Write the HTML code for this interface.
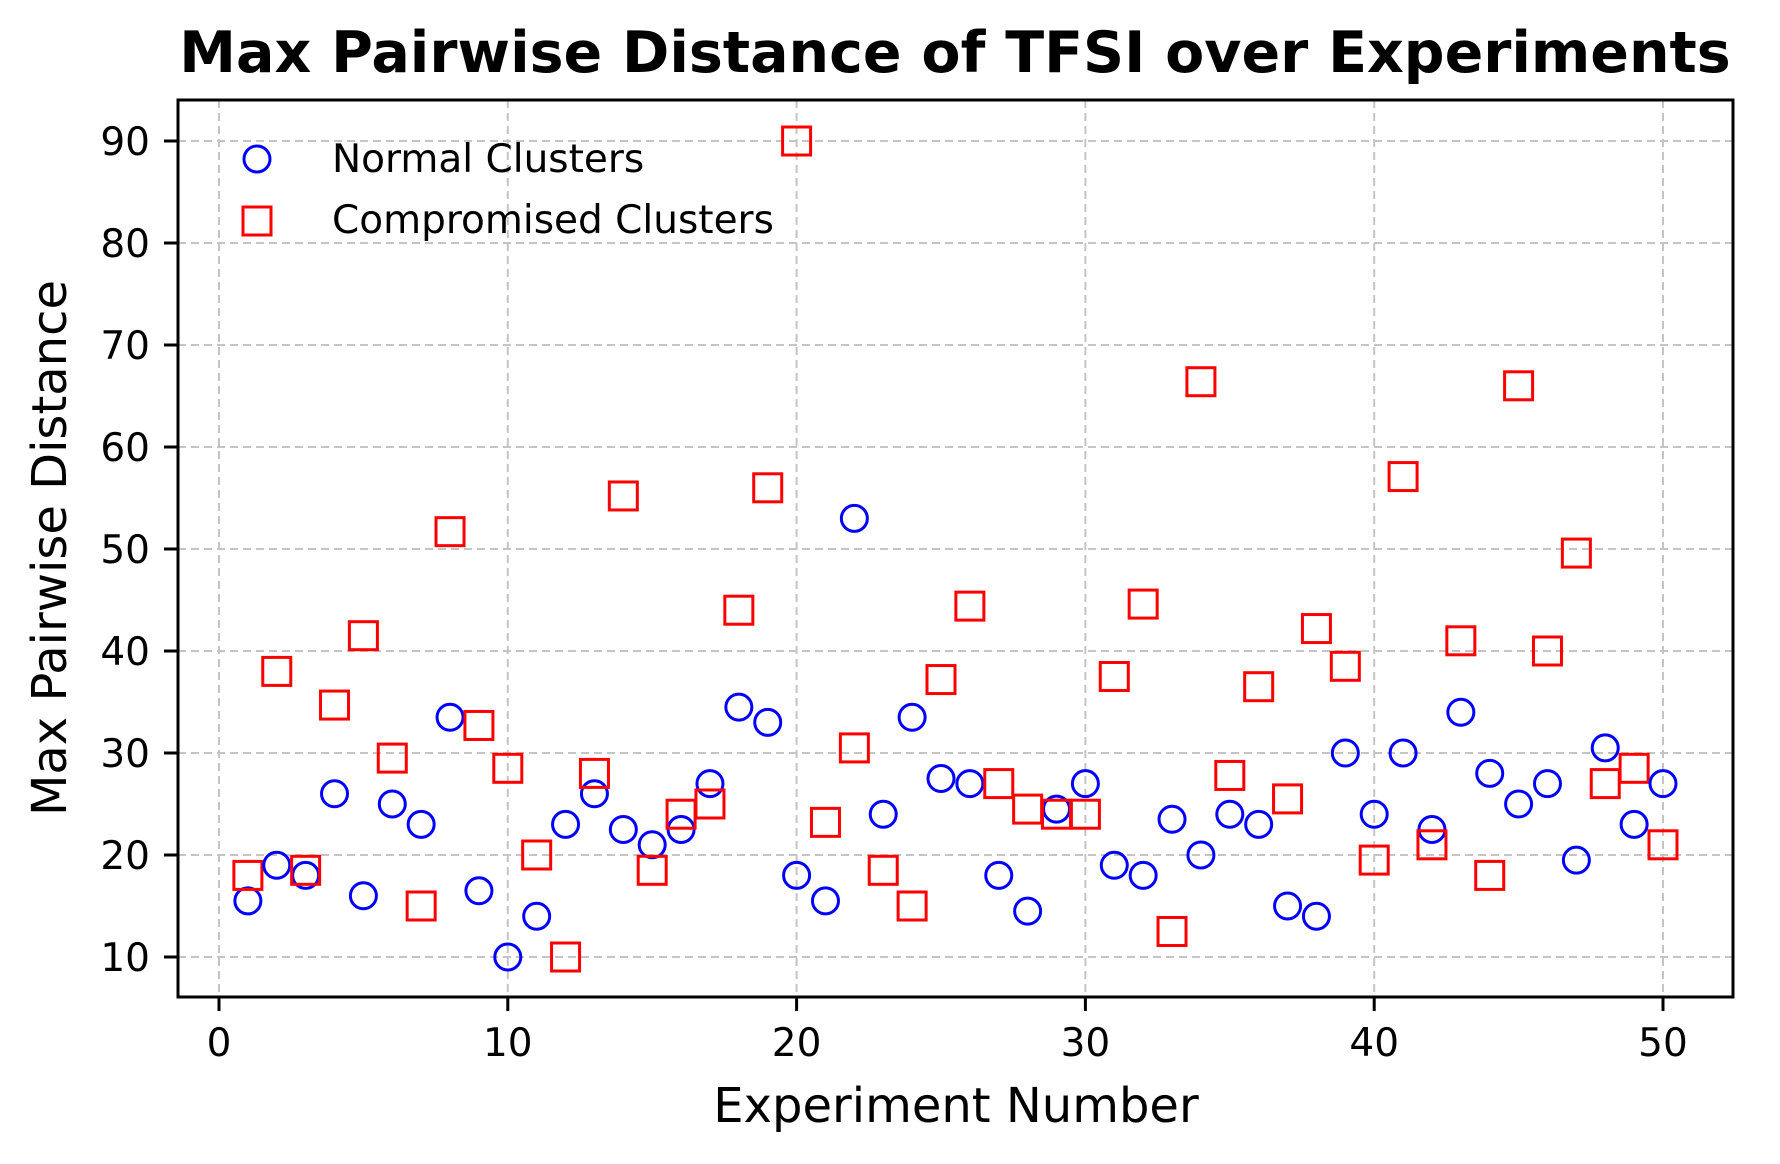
<!DOCTYPE html>
<html><head><meta charset="utf-8"><style>
body{margin:0;background:#fff}
svg{display:block;font-family:"DejaVu Sans","Liberation Sans",sans-serif}
</style></head><body>
<svg id="chart" width="1780" height="1164">
<text x="955" y="72" font-size="57" font-weight="bold" text-anchor="middle">Max Pairwise Distance of TFSI over Experiments</text>
<g id="grid"></g><g id="ticks"></g><g id="marks"></g>
<rect x="178" y="100" width="1555" height="897" fill="none" stroke="#000" stroke-width="3"/>
<text x="956" y="1122" font-size="48" text-anchor="middle">Experiment Number</text>
<text x="0" y="0" font-size="48" text-anchor="middle" transform="translate(66,548) rotate(-90)">Max Pairwise Distance</text>
<g>
<circle cx="257" cy="159" r="13" fill="none" stroke="#00f" stroke-width="3"/>
<text x="332" y="172" font-size="39">Normal Clusters</text>
<rect x="243" y="207" width="28" height="28" fill="none" stroke="#f00" stroke-width="3"/>
<text x="332" y="233" font-size="39">Compromised Clusters</text>
</g>
</svg>
<script>
const experiments=Array.from({length:50},(_, i)=>i+1);
const normal=[15.5,19,18,26,16,25,23,33.5,16.5,10,14,23,26,22.5,21,22.5,27,34.5,33,18,15.5,53,24,33.5,27.5,27,18,14.5,24.5,27,19,18,23.5,20,24,23,15,14,30,24,30,22.5,34,28,25,27,19.5,30.5,23,27];
const compromised=[18,38,18.5,34.7,41.5,29.5,15,51.7,32.7,28.5,20,10,28,55.2,18.5,24,25,44,56,90,23.2,30.5,18.5,15,37.2,44.4,27,24.5,24,24,37.5,44.6,12.5,66.4,27.8,36.5,25.5,42.2,38.5,19.5,57.1,21,41,18,66,40,49.6,27,28.5,21];
const xTicks=[0,10,20,30,40,50];
const yTicks=[10,20,30,40,50,60,70,80,90];
const NS="http://www.w3.org/2000/svg";
const X=v=>219+v*28.88;
const Y=v=>957-(v-10)*10.2;
const L=178,R=1733,T=100,B=997;
function mk(tag,attrs,parent){const e=document.createElementNS(NS,tag);for(const k in attrs)e.setAttribute(k,attrs[k]);document.getElementById(parent).appendChild(e);return e;}
xTicks.forEach(t=>{
 const g=mk('line',{x1:X(t),x2:X(t),y1:T,y2:B,stroke:'#c4c4c4','stroke-width':2,'stroke-dasharray':'8,5'},'grid');
 
 
 const l=mk('line',{x1:X(t),x2:X(t),y1:B,y2:B+14,stroke:'#000','stroke-width':3},'ticks');
 
 
 const tx=mk('text',{x:X(t),y:1056,'font-size':39,'text-anchor':'middle'},'ticks');tx.textContent=t;
 
 
});
yTicks.forEach(t=>{
 const g=mk('line',{x1:L,x2:R,y1:Y(t),y2:Y(t),stroke:'#c4c4c4','stroke-width':2,'stroke-dasharray':'8,5'},'grid');
 
 
 const l=mk('line',{x1:L-14,x2:L,y1:Y(t),y2:Y(t),stroke:'#000','stroke-width':3},'ticks');
 
 
 const tx=mk('text',{x:150,y:Y(t)+14,'font-size':39,'text-anchor':'end'},'ticks');tx.textContent=t;
 
 
});
experiments.forEach((e,i)=>{
 const c=mk('circle',{cx:X(e),cy:Y(normal[i]),r:13,fill:'none',stroke:'#00f','stroke-width':3},'marks');
 
 
 const s=mk('rect',{x:X(e)-14,y:Y(compromised[i])-14,width:28,height:28,fill:'none',stroke:'#f00','stroke-width':3},'marks');
 
 
});
</script>
</body></html>
